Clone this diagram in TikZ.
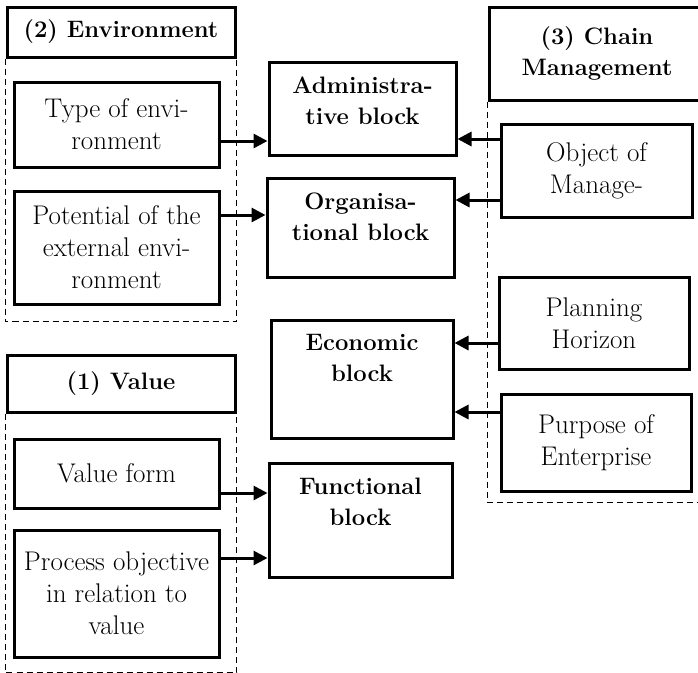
\documentclass[tikz,border=0pt]{standalone}
\usetikzlibrary{arrows.meta}
\newcommand{\boxfont}{\fontsize{27}{32}\selectfont}
\newcommand{\headfont}{\fontsize{23.8}{31}\selectfont\bfseries}
\tikzset{
        box/.style={draw, rectangle, line width=3pt, inner sep=0pt, align=center},
        % Group headers
        node_head/.style={box, font=\headfont},
        % Factor boxes inside the groups
        node_factor/.style={box, minimum width=205pt},
        % Blocks in the middle (text at the top)
        node_block/.style={box},
        block_text/.style={anchor=north, align=center, font=\headfont, inner sep=0pt, yshift=-16pt},
        % Dashed group frames
        group_line/.style={line width=1.8pt, dash pattern=on 6pt off 4pt},
        link/.style={line width=3pt, -{Triangle[length=14pt,width=14pt]}}
}
\begin{document}
\begin{tikzpicture}[x=1pt, y=-1pt, font=\boxfont]
    \clip (0,0) rectangle (698,672);
    % (2) Environment
    \node[node_head, minimum width=228pt, minimum height=50pt] (envhead) at (121,32) {(2) Environment};
    \draw[group_line] (envhead.south west) -- ++(0,263) -| (envhead.south east);
    \node[node_factor, minimum height=85pt] (typeenv) at (116.5,124.5) {Type of envi-\\ronment};
    \node[node_factor, minimum height=113pt] (potential) at (116.5,247.5) {Potential of the\\external envi-\\ronment};
    % (1) Value
    \node[node_head, minimum width=228pt, minimum height=57pt] (valhead) at (121,383.5) {(1) Value};
    \draw[group_line] (valhead.south west) -- ++(0,259) -| (valhead.south east);
    \node[node_factor, minimum height=69pt] (valform) at (116.5,473.5) {Value form};
    \node[node_factor, minimum height=127pt] (process) at (116.5,593.5) {Process objective\\in relation to\\value};
    % (3) Chain Management
    \node[node_head, minimum width=216pt, minimum height=93pt] (chainhead) at (597,53.5) {(3) Chain\\Management};
    \draw[group_line] (chainhead.south west) -- ++(0,401) -- ++(230,0);
    \node[box, minimum width=191pt, minimum height=93pt] (object) at (596.5,170.5) {Object of\\Manage-};
    \node[box, minimum width=190pt, minimum height=92pt] (planning) at (594,323) {Planning\\Horizon};
    \node[box, minimum width=190pt, minimum height=97pt] (purpose) at (596,442.5) {Purpose of\\Enterprise};
    % Blocks
    \node[node_block, minimum width=187pt, minimum height=93pt,
          label={[block_text]north:{Administra-\\tive block}}] (admin) at (362.5,108.5) {};
    \node[node_block, minimum width=187pt, minimum height=99pt,
          label={[block_text]north:{Organisa-\\tional block}}] (organ) at (360.5,227.5) {};
    \node[node_block, minimum width=182pt, minimum height=118pt,
          label={[block_text]north:{Economic\\block}}] (econ) at (362,379) {};
    \node[node_block, minimum width=183pt, minimum height=114pt,
          label={[block_text]north:{Functional\\block}}] (func) at (360.5,520) {};
    % Links
    \draw[link] (typeenv.east |- 0,141) -- (admin.west |- 0,141);
    \draw[link] (potential.east |- 0,215) -- (organ.west |- 0,215);
    \draw[link] (object.west |- 0,139) -- (admin.east |- 0,139);
    \draw[link] (object.west |- 0,200) -- (organ.east |- 0,200);
    \draw[link] (planning.west |- 0,343) -- (econ.east |- 0,343);
    \draw[link] (purpose.west |- 0,412) -- (econ.east |- 0,412);
    \draw[link] (valform.east |- 0,493) -- (func.west |- 0,493);
    \draw[link] (process.east |- 0,558) -- (func.west |- 0,558);
\end{tikzpicture}
\end{document}
